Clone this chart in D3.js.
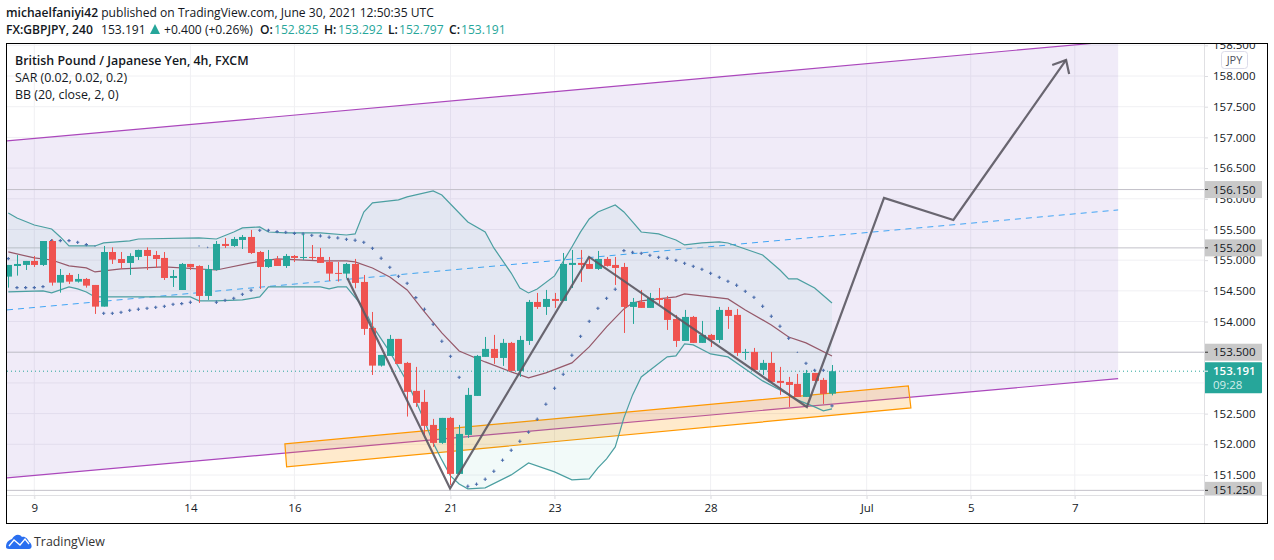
<!DOCTYPE html>
<html lang="en"><head>
<meta charset="utf-8">
<title>GBPJPY</title>
<script src="https://cdn.jsdelivr.net/npm/d3@7"></script>
<style>
body { margin: 0; background: #fff; }
text { font-family: "Open Sans", sans-serif; fill: #131722; }
</style>
</head>
<body>
<script type="text/javascript">

var width = 1274;
var height = 560;

// candles, one per 4h bar
var opens = [154.732,154.905,154.922,154.987,154.922,155.312,154.634,154.759,154.65,154.694,
154.596,154.243,155.133,155.019,154.954,155.052,155.166,155.084,155.036,154.71,
154.514,154.938,154.905,154.417,154.84,155.264,155.231,155.329,155.378,155.133,
154.889,155.019,154.905,155.068,155.036,155.052,155.052,154.971,154.792,154.781,
154.938,154.645,153.896,153.282,153.44,153.717,153.326,152.87,152.691,152.316,
152.023,152.43,151.518,152.153,152.788,153.424,153.554,153.407,153.652,153.196,
153.684,154.319,154.238,154.368,154.336,154.922,154.955,154.938,154.857,155.02,
154.922,154.889,154.238,154.319,154.222,154.384,154.368,154.042,153.684,154.075,
153.652,153.782,153.7,154.189,154.108,153.489,153.505,153.212,153.326,153.033,
153.016,152.984,152.772,153.163,153.049,152.825];
var highs = [154.922,155.084,154.987,155.068,155.312,155.34,154.856,154.791,154.775,154.71,
154.596,155.231,155.209,155.133,155.112,155.171,155.209,155.15,155.133,154.84,
154.954,154.938,154.916,154.922,155.312,155.361,155.378,155.41,155.492,155.15,
155.166,155.068,155.101,155.084,155.427,155.247,155.199,155.052,154.971,154.955,
155.02,154.759,154.156,153.456,153.782,153.717,153.342,153.261,152.886,152.414,
152.43,152.446,152.316,152.919,153.456,153.749,153.782,153.717,153.668,153.766,
154.352,154.466,154.515,154.466,155.117,155.166,155.166,155.052,155.15,155.052,
155.052,154.955,154.384,154.515,154.466,154.547,154.417,154.108,154.189,154.091,
154.01,153.798,154.238,154.238,154.205,153.554,153.57,153.375,153.505,153.261,
153.098,153.147,153.212,153.163,153.082,153.292];
var lows = [154.552,154.748,154.84,154.889,154.905,154.585,154.471,154.612,154.634,154.552,
154.124,154.243,154.938,154.856,154.759,155.003,154.84,154.873,154.677,154.563,
154.514,154.84,154.303,154.352,154.83,155.198,155.215,155.182,155.101,154.531,
154.873,154.905,154.873,154.97,155.003,155.003,154.955,154.661,154.651,154.705,
154.542,153.782,153.13,153.266,153.44,153.31,152.452,152.609,152.153,151.958,
152.007,151.339,151.502,152.104,152.788,153.424,153.31,153.277,153.196,153.098,
153.619,154.205,154.108,154.222,154.336,154.547,154.645,154.857,154.841,154.895,
154.596,153.814,153.961,154.222,154.222,154.287,153.863,153.586,153.684,153.652,
153.652,153.586,153.652,153.88,153.44,153.375,153.196,153.13,153.0,152.805,
152.609,152.772,152.772,153.016,152.658,152.797];
var closes = [154.922,154.938,154.987,154.922,155.312,154.634,154.759,154.65,154.694,154.585,
154.243,155.133,155.008,154.954,155.068,155.166,155.068,155.019,154.71,154.742,
154.938,154.884,154.417,154.856,155.264,155.231,155.345,155.378,155.117,154.889,
155.019,154.905,155.068,155.036,155.052,155.036,154.955,154.781,154.781,154.938,
154.629,153.88,153.282,153.456,153.717,153.31,152.854,152.674,152.3,152.023,
152.43,151.518,152.169,152.805,153.44,153.554,153.407,153.652,153.196,153.7,
154.319,154.238,154.368,154.336,154.938,154.955,154.922,154.857,155.02,154.906,
154.873,154.238,154.319,154.222,154.384,154.352,154.026,153.684,154.075,153.652,
153.782,153.7,154.189,154.091,153.489,153.505,153.212,153.326,153.016,153.0,
152.967,152.772,153.163,153.033,152.821,153.191];

// parabolic SAR, one per bar
var sar = [155.025,154.552,154.552,154.552,154.569,155.318,155.318,155.318,155.291,155.253,
155.231,154.134,154.134,154.151,154.183,154.2,154.216,154.232,154.248,154.281,
154.292,154.314,155.231,155.209,154.314,154.346,154.379,154.444,154.509,155.486,
155.486,155.465,155.454,155.437,155.427,155.405,155.394,155.373,155.362,155.34,
155.324,155.291,155.193,155.031,154.884,154.737,154.623,154.39,154.2,153.956,
153.679,153.434,153.092,151.317,151.35,151.431,151.561,151.741,151.903,152.05,
152.197,152.408,152.653,152.913,153.141,153.451,153.76,154.004,154.216,154.379,
154.526,155.155,155.128,155.112,155.079,155.047,155.031,154.998,154.949,154.9,
154.851,154.786,154.721,154.656,154.591,154.493,154.395,154.249,154.086,153.923,
153.728,153.5,153.32,153.206,153.206,152.626];
var sarSmall = [10, 22, 23, 91];

// bollinger bands, read at the bends of each line
var upperBars = [0,1,3,5,6,7,10,11,14,15,22,24,26,27,29,30,32,36,39,40,41,42,45,46,49,50,53,55,56,58,59,60,61,63,65,66,67,68,70,71,72,73,75,76,77,78,80,82,83,85,87,89,90,91,93,95];
var upperVals = [155.769,155.687,155.573,155.508,155.378,155.231,155.231,155.28,155.313,155.345,155.362,155.345,155.459,155.525,155.541,155.459,155.443,155.443,155.41,155.427,155.785,155.932,155.981,156.03,156.127,156.062,155.622,155.46,155.199,154.79,154.547,154.466,154.531,154.743,155.215,155.46,155.671,155.785,155.899,155.785,155.622,155.459,155.427,155.378,155.329,155.248,155.28,155.297,155.28,155.182,155.085,154.84,154.694,154.694,154.547,154.303];
var lowerBars = [0,4,5,7,8,9,10,12,21,22,24,27,29,30,36,37,38,39,41,42,44,46,47,48,49,50,51,52,53,55,58,60,63,65,67,68,69,70,71,72,73,76,77,78,79,81,83,85,87,89,91,93,94,95];
var lowerVals = [154.482,154.498,154.466,154.564,154.531,154.482,154.401,154.401,154.401,154.336,154.336,154.352,154.401,154.564,154.564,154.531,154.564,154.564,154.222,153.928,153.505,153.016,152.707,152.381,152.023,151.746,151.486,151.355,151.274,151.29,151.502,151.697,151.55,151.42,151.437,151.616,151.762,151.958,152.43,152.805,153.098,153.424,153.44,153.635,153.619,153.472,153.424,153.228,153.033,152.886,152.723,152.609,152.544,152.577];
var basisBars = [0,3,5,7,9,10,13,18,24,28,31,36,39,40,42,44,46,48,50,52,55,58,60,62,65,67,69,71,72,73,75,77,78,80,83,85,88,90,92,95];
var basisVals = [155.134,155.036,155.003,154.906,154.873,154.808,154.857,154.889,154.84,154.955,155.02,154.987,154.987,154.971,154.873,154.726,154.515,154.157,153.814,153.521,153.342,153.179,153.082,153.163,153.326,153.586,153.912,154.205,154.303,154.336,154.368,154.401,154.45,154.417,154.368,154.189,153.945,153.749,153.652,153.44];

// axis labels, the grid also runs at 153 and 153.5 where the price boxes hide the labels
var priceTicks = [151.5,152,152.5,154,154.5,155,155.5,156,156.5,157,157.5,158,158.5];
var gridPrices = priceTicks.concat([153,153.5]);
var dateBars = [3,21,33,51,63,81,99,111,123];
var dateLabels = ["9","14","16","21","23","28","Jul","5","7"];

// drawings on the chart
var levels = [156.15,155.2,153.5,151.25];
var lastPrice = 153.191;
var channelBars = [-0.15,128];
var channelTop = [156.942,158.57];
var channelMid = [154.189,155.818];
var channelBottom = [151.453,153.07];
var zoneBars = [31.9,103.8,104.1,32.1];
var zoneVals = [152.007,152.951,152.593,151.632];
var pathBars = [39.1,50.95,66.98,92.1,101,109,122];
var pathVals = [154.71,151.28,155.052,152.609,156.013,155.655,158.261];
var headBars = [120.4,122,122.35];
var headVals = [158.18,158.261,158.033];

var green = "#26a69a";
var red = "#ef5350";

var x = d3.scaleLinear().domain([0,95]).range([8.3,832]);
var y = d3.scaleLinear().domain([151.5,158]).range([475,76]);
var line = d3.line().x(function(d){ return x(d[0]); }).y(function(d){ return y(d[1]); });

function pairs(a, b){ return a.map(function(v, i){ return [v, b[i]]; }); }

var svg = d3.select("body").append("svg")
    .attr("width", width)
    .attr("height", height)
    .style("display", "block");

var defs = svg.append("defs");
defs.append("clipPath").attr("id", "pane").append("rect")
    .attr("x", 7).attr("y", 44).attr("width", 1197).attr("height", 451);
defs.append("clipPath").attr("id", "scale").append("rect")
    .attr("x", 1204).attr("y", 44).attr("width", 63).attr("height", 451);

// grid
var grid = svg.append("g");
grid.selectAll(".gy").data(gridPrices).enter().append("line")
    .attr("x1", 7).attr("x2", 1204)
    .attr("y1", function(d){ return y(d); }).attr("y2", function(d){ return y(d); })
    .attr("stroke", "#f0f0f3");
grid.selectAll(".gx").data(dateBars).enter().append("line")
    .attr("x1", function(d){ return x(d); }).attr("x2", function(d){ return x(d); })
    .attr("y1", 44).attr("y2", 499)
    .attr("stroke", "#f0f0f3");

var pane = svg.append("g").attr("clip-path", "url(#pane)");

// parallel channel
pane.append("path")
    .attr("d", line(pairs(channelBars, channelTop).concat(pairs(channelBars, channelBottom).reverse())) + "Z")
    .attr("fill", "rgba(103,58,183,0.1)");
pane.append("path").attr("d", line(pairs(channelBars, channelTop)))
    .attr("fill", "none").attr("stroke", "#ab47bc").attr("stroke-width", 1.2);
pane.append("path").attr("d", line(pairs(channelBars, channelBottom)))
    .attr("fill", "none").attr("stroke", "#ab47bc").attr("stroke-width", 1.2);
pane.append("path").attr("d", line(pairs(channelBars, channelMid)))
    .attr("fill", "none").attr("stroke", "#42a5f5").attr("stroke-width", 1)
    .attr("stroke-dasharray", "6 5");

// horizontal levels
pane.selectAll(".level").data(levels).enter().append("line")
    .attr("x1", 7).attr("x2", 1204)
    .attr("y1", function(d){ return y(d); }).attr("y2", function(d){ return y(d); })
    .attr("stroke", "#c3c1c9").attr("stroke-width", 1);

// orange zone
pane.append("path")
    .attr("d", line(pairs(zoneBars, zoneVals)) + "Z")
    .attr("fill", "rgba(255,152,0,0.2)")
    .attr("stroke", "#ff9800").attr("stroke-width", 1.2);

// bollinger bands
var upperPts = pairs(upperBars, upperVals);
var lowerPts = pairs(lowerBars, lowerVals);
pane.append("path")
    .attr("d", line(upperPts.concat(lowerPts.slice().reverse())) + "Z")
    .attr("fill", "#26a69a").attr("fill-opacity", 0.06);
[upperPts, lowerPts].forEach(function(p){
    pane.append("path").attr("d", line(p))
        .attr("fill", "none").attr("stroke", "#4b9fa1").attr("stroke-width", 1.2);
});
pane.append("path").attr("d", line(pairs(basisBars, basisVals)))
    .attr("fill", "none").attr("stroke", "#96596a").attr("stroke-width", 1.2);

// last price line
pane.append("line")
    .attr("x1", 7).attr("x2", 1204)
    .attr("y1", y(lastPrice)).attr("y2", y(lastPrice))
    .attr("stroke", green).attr("stroke-width", 1).attr("stroke-dasharray", "1 3");

// SAR
var cross = d3.symbol().type(d3.symbolCross);
pane.selectAll(".sar").data(sar).enter().append("path")
    .attr("d", function(d, i){ return cross.size(sarSmall.indexOf(i) >= 0 ? 1.5 : 6)(); })
    .attr("transform", function(d, i){ return "translate(" + x(i) + "," + y(d) + ")"; })
    .attr("fill", "#4a6cab");

// candles
var bars = pane.selectAll(".bar").data(closes).enter().append("g");
bars.append("line")
    .attr("x1", function(d, i){ return Math.round(x(i)) + 0.5; })
    .attr("x2", function(d, i){ return Math.round(x(i)) + 0.5; })
    .attr("y1", function(d, i){ return y(highs[i]); })
    .attr("y2", function(d, i){ return y(lows[i]); })
    .attr("stroke", function(d, i){ return d >= opens[i] ? green : red; });
bars.append("rect")
    .attr("x", function(d, i){ return Math.round(x(i)) - 3; })
    .attr("width", 7)
    .attr("y", function(d, i){ return y(Math.max(d, opens[i])); })
    .attr("height", function(d, i){ return Math.max(1, Math.abs(y(d) - y(opens[i]))); })
    .attr("fill", function(d, i){ return d >= opens[i] ? green : red; });

// forecast path and arrow head
pane.append("path").attr("d", line(pairs(pathBars, pathVals)))
    .attr("fill", "none").attr("stroke", "#5d5a64").attr("stroke-width", 2.2).attr("stroke-opacity", 0.92);
pane.append("path").attr("d", line(pairs(headBars, headVals)))
    .attr("fill", "none").attr("stroke", "#5d5a64").attr("stroke-width", 2.2).attr("stroke-opacity", 0.92);

// price scale, the outer group clips and the inner one is moved
var yAxis = svg.append("g")
    .attr("clip-path", "url(#scale)")
    .append("g")
    .attr("transform", "translate(1204,0)")
    .call(d3.axisRight(y).tickValues(priceTicks).tickSize(4).tickPadding(5).tickFormat(d3.format(".3f")));
yAxis.select(".domain").remove();
yAxis.selectAll("line").attr("stroke", "#dcdce0");
yAxis.selectAll("text").style("font-family", '"Open Sans", sans-serif').style("font-size", "11.5px");

var boxes = svg.append("g").attr("clip-path", "url(#scale)");
levels.forEach(function(v){
    var py = y(v);
    boxes.append("rect").attr("x", 1204).attr("y", py - 8.5).attr("width", 58).attr("height", 17).attr("fill", "#c9c9c9");
    boxes.append("line").attr("x1", 1204).attr("x2", 1208).attr("y1", py).attr("y2", py).attr("stroke", "#333");
    boxes.append("text").attr("x", 1213).attr("y", py + 4).attr("font-size", 11.5).text(v.toFixed(3));
});
var lastY = y(lastPrice);
boxes.append("rect").attr("x", 1204).attr("y", lastY - 9).attr("width", 58).attr("height", 31).attr("rx", 1).attr("fill", green);
boxes.append("line").attr("x1", 1204).attr("x2", 1208).attr("y1", lastY).attr("y2", lastY).attr("stroke", "#fff");
boxes.append("text").attr("x", 1213).attr("y", lastY + 4).attr("font-size", 11.5).attr("font-weight", 600).style("fill", "#fff").text(lastPrice.toFixed(3));
boxes.append("text").attr("x", 1213).attr("y", lastY + 18).attr("font-size", 11.5).style("fill", "#d3eeeb").text("09:28");

// currency tag
svg.append("rect").attr("x", 1221.5).attr("y", 51.5).attr("width", 26).attr("height", 17).attr("rx", 3)
    .attr("fill", "#fff").attr("stroke", "#dcdcea");
svg.append("text").attr("x", 1234.5).attr("y", 64).attr("text-anchor", "middle").attr("font-size", 11).style("fill", "#50535e").text("JPY");

// axis separators
svg.append("line").attr("x1", 1204.5).attr("x2", 1204.5).attr("y1", 44).attr("y2", 523).attr("stroke", "#e0e0e3");
svg.append("line").attr("x1", 7).attr("x2", 1267).attr("y1", 495.5).attr("y2", 495.5).attr("stroke", "#e0e0e3");

// time scale
var xAxis = svg.append("g")
    .attr("transform", "translate(0,495)")
    .call(d3.axisBottom(x).tickValues(dateBars).tickSize(4).tickPadding(5)
        .tickFormat(function(d, i){ return dateLabels[i]; }));
xAxis.select(".domain").remove();
xAxis.selectAll("line").attr("stroke", "#e0e0e3");
xAxis.selectAll("text").style("font-family", '"Open Sans", sans-serif').style("font-size", "11.5px");

// frame
svg.append("rect").attr("x", 6.5).attr("y", 43.5).attr("width", 1261).attr("height", 480)
    .attr("fill", "none").attr("stroke", "#000").attr("stroke-width", 1);

// legend in the pane
svg.append("text").attr("x", 15).attr("y", 65).attr("font-size", 12.4).attr("font-weight", 600).text("British Pound / Japanese Yen, 4h, FXCM");
svg.append("text").attr("x", 15).attr("y", 82).attr("font-size", 12.4).text("SAR (0.02, 0.02, 0.2)");
svg.append("text").attr("x", 15).attr("y", 99).attr("font-size", 12.4).text("BB (20, close, 2, 0)");

// header
var head1 = svg.append("text").attr("x", 6).attr("y", 17).attr("font-size", 12.1);
head1.append("tspan").attr("font-weight", 600).text("michaelfaniyi42");
head1.append("tspan").text(" published on TradingView.com, June 30, 2021 12:50:35 UTC");

svg.append("text").attr("x", 6).attr("y", 34).attr("font-size", 12.1).attr("font-weight", 600).text("FX:GBPJPY, 240");
svg.append("text").attr("x", 101).attr("y", 34).attr("font-size", 12.1).text("153.191");
svg.append("path").attr("d", "M150,34L155,24L160,34Z").attr("fill", green);
svg.append("text").attr("x", 164).attr("y", 34).attr("font-size", 12.1).text("+0.400 (+0.26%)");

var ohlcNames = ["O:","H:","L:","C:"];
var ohlcVals = ["152.825","153.292","152.797","153.191"];
var ohlcNameX = [260,324,388,449];
var ohlcValX = [274,338,399,461];
ohlcNames.forEach(function(n, i){
    svg.append("text").attr("x", ohlcNameX[i]).attr("y", 34).attr("font-size", 12.1).attr("font-weight", 600).text(n);
    svg.append("text").attr("x", ohlcValX[i]).attr("y", 34).attr("font-size", 12.1).style("fill", green).text(ohlcVals[i]);
});

// logo
svg.append("path")
    .attr("d", "M6,547 C6,542 9,540 12,539 C14,535 19,533 22,537 C25,536 28,539 29,542 C32,543 33,549 29,549 L9,549 C7,549 6,548 6,547Z")
    .attr("fill", "#2a6ff0");
svg.append("path")
    .attr("d", "M9,546 L14,540 L20,545 L25,539 L29,544")
    .attr("fill", "none").attr("stroke", "#fff").attr("stroke-width", 1.3);
svg.append("text").attr("x", 34).attr("y", 546).attr("font-size", 12.4).style("fill", "#333").text("TradingView");

</script>
</body></html>
